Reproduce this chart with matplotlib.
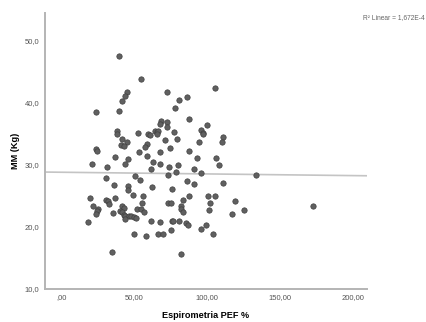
import numpy as np
import matplotlib
matplotlib.use("Agg")
import matplotlib.pyplot as plt
from matplotlib.ticker import FuncFormatter

plt.rcParams["font.family"] = ["Liberation Sans", "DejaVu Sans"]

# PEF % vs muscle mass
pef = [39.3, 54.7, 72.4, 105.5, 44.6, 43.7, 41.2, 23.4, 39.1, 80.7,
       86.2, 77.7, 87.4, 68.3, 67.4, 72.2, 72.4, 64.0, 65.5, 66.4,
       65.7, 37.6, 37.8, 52.6, 59.5, 60.8, 76.8, 99.5, 95.9, 96.8,
       97.2, 41.4, 44.6, 40.7, 42.8, 58.6, 57.0, 71.2, 79.1, 94.0,
       111.0, 110.3, 23.7, 23.9, 74.7, 52.9, 58.8, 67.8, 87.4, 36.3,
       45.7, 92.9, 106.0, 20.5, 62.6, 43.7, 31.0, 61.4, 67.8, 73.8,
       79.8, 91.2, 95.6, 108.3, 72.9, 78.8, 30.3, 50.1, 53.8, 86.4,
       90.6, 35.9, 45.7, 45.3, 62.1, 75.9, 48.7, 56.1, 87.1, 100.5,
       105.5, 19.3, 30.3, 31.5, 36.8, 55.2, 73.1, 75.2, 83.2, 101.6,
       21.4, 32.4, 41.4, 42.8, 51.9, 54.7, 56.6, 81.6, 82.1, 83.0,
       101.4, 25.1, 23.9, 23.7, 40.0, 41.6, 42.5, 34.9, 43.4, 46.0,
       47.8, 49.4, 50.8, 43.6, 17.7, 61.4, 67.6, 75.6, 76.6, 80.4,
       85.5, 86.9, 95.9, 99.1, 49.7, 58.1, 66.0, 69.4, 75.4, 103.7,
       34.7, 81.9, 133.6, 110.8, 118.9, 125.5, 116.8, 172.6]
mm = [47.6, 43.9, 41.7, 42.4, 41.7, 41.1, 40.3, 38.5, 38.6, 40.4,
      41.0, 39.1, 37.4, 37.1, 36.6, 36.9, 36.1, 35.5, 35.3, 35.5,
      34.9, 35.4, 35.0, 35.1, 35.0, 34.8, 35.3, 36.4, 35.6, 35.2,
      34.9, 34.1, 33.7, 33.2, 33.1, 33.4, 32.9, 34.0, 34.1, 33.7,
      34.5, 33.7, 32.5, 32.2, 32.7, 32.0, 31.5, 32.0, 32.3, 31.3,
      30.9, 31.1, 31.1, 30.2, 30.5, 30.2, 29.6, 29.3, 30.2, 29.7,
      30.0, 29.4, 28.7, 30.0, 28.4, 28.8, 27.8, 28.2, 27.5, 27.4,
      26.9, 26.8, 26.6, 25.9, 26.4, 26.1, 25.1, 25.0, 25.0, 25.0,
      25.0, 24.6, 24.3, 24.1, 24.6, 23.9, 23.8, 23.8, 24.3, 23.9,
      23.3, 23.6, 23.4, 23.1, 22.9, 22.9, 22.4, 23.3, 22.9, 22.4,
      22.7, 22.8, 22.6, 22.1, 22.5, 22.4, 21.9, 22.2, 21.7, 21.7,
      21.7, 21.6, 21.4, 21.2, 20.7, 20.9, 20.7, 20.9, 20.9, 20.9,
      20.6, 20.3, 19.6, 20.3, 18.9, 18.5, 18.9, 18.8, 19.5, 18.9,
      15.9, 15.6, 28.4, 27.0, 24.1, 22.7, 22.1, 23.4]

# linear fit: intercept, slope
fit_intercept = 28.8
fit_slope = -0.0027
r2_text = "R² Linear = 1,672E-4"

x_ticks = [0, 50, 100, 150, 200]
y_ticks = [10, 20, 30, 40, 50]


def fmt_x(v, pos):
    s = f"{v:.2f}".replace(".", ",")
    return s[1:] if s.startswith("0") else s


def fmt_y(v, pos):
    return f"{v:.1f}".replace(".", ",")


fig = plt.figure(figsize=(4.27, 3.22), dpi=100)
ax = fig.add_axes([0.105, 0.103, 0.755, 0.857])

xlim = (-11.7, 210)
ax.set_xlim(*xlim)
ax.set_ylim(10, 54.5)

xs = np.array(xlim)
ax.plot(xs, fit_intercept + fit_slope * xs, color="#c4c4c4", lw=1.2, zorder=1)

ax.scatter(pef, mm, s=15, c="#606060", edgecolors="#404040", linewidths=0.5, zorder=2)

for side in ["top", "right"]:
    ax.spines[side].set_visible(False)
for side in ["left", "bottom"]:
    ax.spines[side].set_color("#b4b4b4")
    ax.spines[side].set_linewidth(1.4)

ax.set_xticks(x_ticks)
ax.set_yticks(y_ticks)
ax.xaxis.set_major_formatter(FuncFormatter(fmt_x))
ax.yaxis.set_major_formatter(FuncFormatter(fmt_y))
ax.tick_params(length=0, labelsize=5.5, labelcolor="#555555", pad=4)

ax.set_xlabel("Espirometria PEF %", fontsize=6.6, fontweight="bold", va="center")
ax.set_ylabel("MM (Kg)", fontsize=6.6, fontweight="bold", va="center")
ax.xaxis.set_label_coords(0.5, -0.097)
ax.yaxis.set_label_coords(-0.09, 0.5)

fig.text(0.995, 0.945, r2_text, ha="right", va="center", fontsize=4.8, color="#666666")

fig.savefig("out.png", dpi=100)
